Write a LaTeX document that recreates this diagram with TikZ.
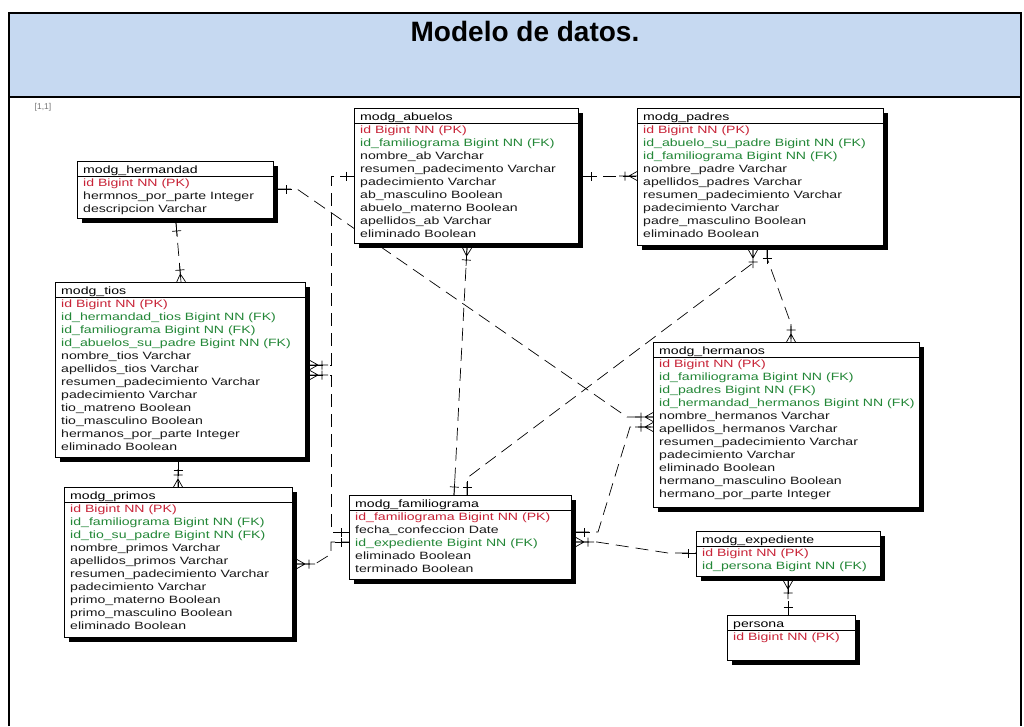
\documentclass[tikz,border=0pt]{standalone}
\usepackage{fontspec}
\setmainfont{Liberation Sans}
\newfontfamily\erfont{Liberation Sans}[FakeStretch=1.33]
\usetikzlibrary{calc,shadows,decorations.markings}

\definecolor{hdrblue}{RGB}{198,217,241}
\definecolor{pkred}{RGB}{200,35,55}
\definecolor{fkgreen}{RGB}{35,135,55}
\definecolor{attgray}{RGB}{25,25,25}

\tikzset{
  erbox/.style={draw=black, line width=0.8pt, fill=white, inner sep=0pt, anchor=north west,
    drop shadow={shadow xshift=5pt, shadow yshift=-5pt, opacity=1, fill=black}},
  ertext/.style={anchor=base west, inner sep=0pt, font=\erfont\fontsize{10.6}{12}\selectfont},
  rel/.style={line width=0.7pt, dash pattern=on 13pt off 7pt},
  from one/.style={postaction={decorate,decoration={markings,mark=at position 0 with
    {\draw[solid,line width=0.7pt] (0,0)--(14pt,0) (8pt,-4.5pt)--(8pt,4.5pt);}}}},
  from many/.style={postaction={decorate,decoration={markings,mark=at position 0 with
    {\draw[solid,line width=0.7pt] (0,0)--(18pt,0) (0,-4.5pt)--(8pt,0)--(0,4.5pt)
      (12pt,-4.5pt)--(12pt,4.5pt);}}}},
  to one/.style={postaction={decorate,decoration={markings,mark=at position 1 with
    {\draw[solid,line width=0.7pt] (0,0)--(-14pt,0) (-8pt,-4.5pt)--(-8pt,4.5pt);}}}},
  to many/.style={postaction={decorate,decoration={markings,mark=at position 1 with
    {\draw[solid,line width=0.7pt] (0,0)--(-18pt,0) (0,-4.5pt)--(-8pt,0)--(0,4.5pt)
      (-12pt,-4.5pt)--(-12pt,4.5pt);}}}},
}

% #1 name, #2 left, #3 top, #4 width, #5 height, #6 table name, #7 colour/row list
\newcommand\ertable[7]{%
  \node[erbox, minimum width=#4, minimum height=#5] (#1) at (#2,#3) {};
  \draw[line width=0.6pt] ($(#1.north west)+(0,15.5)$) -- ($(#1.north east)+(0,15.5)$);
  \node[ertext, text=black] (#1-h) at ($(#1.north west)+(6,12)$) {#6};
  \foreach \c/\t [count=\i] in {#7}
    \node[ertext, text=\c] (#1-\i) at ($(#1.north west)+(6,12+13*\i)$) {\t};
}

\begin{document}
\begin{tikzpicture}[x=1pt,y=-1pt]
\useasboundingbox (0,0) rectangle (1024,726);

% page frame and heading band
\fill[hdrblue] (9,13) rectangle (1021,97);
\draw[line width=2pt] (9,726) -- (9,13) -- (1021,13) -- (1021,726);
\draw[line width=2pt] (9,97) -- (1021,97);
\node[font=\bfseries\fontsize{28}{30}\selectfont] (title) at (525,31) {Modelo de datos.};
\node[text=black!55, font=\fontsize{8.5}{9}\selectfont] (zoomlevel) at (43,107) {[1,1]};

% table corners (the tables are drawn later, on top of the relations)
\path (77,161) coordinate (herm0) (354,108) coordinate (abu0) (637,108) coordinate (pad0)
      (55,282) coordinate (tios0) (64,487) coordinate (prim0) (349,495) coordinate (fam0)
      (653,342) coordinate (hnos0) (696,531) coordinate (exp0) (727,615) coordinate (per0);
\path (273,218) coordinate (herm1) (578,243) coordinate (abu1) (883,245) coordinate (pad1)
      (305,457) coordinate (tios1) (292,637) coordinate (prim1) (571,579) coordinate (fam1)
      (919,507) coordinate (hnos1) (880,576) coordinate (exp1) (855,660) coordinate (per1);

% relations
\draw[rel, from one, to many] ($(herm0|-herm1)+(99,5)$) -- ($(tios0)+(126,0)$);
\draw[rel, from one, to many] ($(herm1|-herm0)+(5,28)$) -- ++(19,0)
      -- ($(hnos0)+(-26,75)$) -- ($(hnos0)+(0,75)$);
\draw[rel, from one, to many] ($(abu0)+(0,68)$) -- ++(-23,0) |- ($(tios1|-tios0)+(5,83)$);
\draw[rel, from many, to one] ($(tios1|-tios0)+(5,93)$) -- ++(21,0) |- ($(fam0)+(0,37)$);
\draw[rel, from many, to one] ($(prim1|-prim0)+(5,77)$) -- ++(18,0) -- ++(16,-10)
      |- ($(fam0)+(0,47)$);
\draw[rel, from one, to many] ($(abu1|-abu0)+(5,68)$) -- ($(pad0)+(0,68)$);
\draw[rel, from many, to one] ($(abu0|-abu1)+(113,5)$) -- ($(fam0)+(105,0)$);
\draw[rel, from one, to many] ($(fam0)+(118,0)$) -- ++(0,-17)
      -- ($(pad0|-pad1)+(116,18)$) -- ($(pad0|-pad1)+(116,5)$);
\draw[rel, from one, to many] ($(pad0|-pad1)+(130,5)$) -- ++(0,8)
      -- ($(hnos0)+(138,-18)$) -- ($(hnos0)+(138,0)$);
\draw[rel, from one, to many] ($(fam1|-fam0)+(5,37)$) -- ++(22,0)
      -- ($(hnos0)+(-23,85)$) -- ($(hnos0)+(0,85)$);
\draw[rel, from many, to one] ($(fam1|-fam0)+(5,47)$) -- ++(21,0)
      -- ($(exp0)+(-28,22)$) -- ($(exp0)+(0,22)$);
\draw[rel, from many, to one] ($(exp0|-exp1)+(92,5)$) -- ($(per0)+(61,0)$);
\draw[rel, from one, to many] ($(tios0|-tios1)+(123,5)$) -- ($(prim0)+(114,0)$);

% tables
\ertable{hermandad}{77}{161}{196}{57}{modg\_hermandad}{pkred/id Bigint NN (PK),
  attgray/hermnos\_por\_parte Integer, attgray/descripcion Varchar}
\ertable{abuelos}{354}{108}{224}{135}{modg\_abuelos}{pkred/id Bigint NN (PK),
  fkgreen/id\_familiograma Bigint NN (FK), attgray/nombre\_ab Varchar,
  attgray/resumen\_padecimento Varchar, attgray/padecimiento Varchar,
  attgray/ab\_masculino Boolean, attgray/abuelo\_materno Boolean,
  attgray/apellidos\_ab Varchar, attgray/eliminado Boolean}
\ertable{padres}{637}{108}{246}{137}{modg\_padres}{pkred/id Bigint NN (PK),
  fkgreen/id\_abuelo\_su\_padre Bigint NN (FK), fkgreen/id\_familiograma Bigint NN (FK),
  attgray/nombre\_padre Varchar, attgray/apellidos\_padres Varchar,
  attgray/resumen\_padecimiento Varchar, attgray/padecimiento Varchar,
  attgray/padre\_masculino Boolean, attgray/eliminado Boolean}
\ertable{tios}{55}{282}{250}{175}{modg\_tios}{pkred/id Bigint NN (PK),
  fkgreen/id\_hermandad\_tios Bigint NN (FK), fkgreen/id\_familiograma Bigint NN (FK),
  fkgreen/id\_abuelos\_su\_padre Bigint NN (FK), attgray/nombre\_tios Varchar,
  attgray/apellidos\_tios Varchar, attgray/resumen\_padecimiento Varchar,
  attgray/padecimiento Varchar, attgray/tio\_matreno Boolean,
  attgray/tio\_masculino Boolean, attgray/hermanos\_por\_parte Integer,
  attgray/eliminado Boolean}
\ertable{primos}{64}{487}{228}{150}{modg\_primos}{pkred/id Bigint NN (PK),
  fkgreen/id\_familiograma Bigint NN (FK), fkgreen/id\_tio\_su\_padre Bigint NN (FK),
  attgray/nombre\_primos Varchar, attgray/apellidos\_primos Varchar,
  attgray/resumen\_padecimiento Varchar, attgray/padecimiento Varchar,
  attgray/primo\_materno Boolean, attgray/primo\_masculino Boolean,
  attgray/eliminado Boolean}
\ertable{familiograma}{349}{495}{222}{84}{modg\_familiograma}{pkred/id\_familiograma Bigint NN (PK),
  attgray/fecha\_confeccion Date, fkgreen/id\_expediente Bigint NN (FK),
  attgray/eliminado Boolean, attgray/terminado Boolean}
\ertable{hermanos}{653}{342}{266}{165}{modg\_hermanos}{pkred/id Bigint NN (PK),
  fkgreen/id\_familiograma Bigint NN (FK), fkgreen/id\_padres Bigint NN (FK),
  fkgreen/id\_hermandad\_hermanos Bigint NN (FK), attgray/nombre\_hermanos Varchar,
  attgray/apellidos\_hermanos Varchar, attgray/resumen\_padecimiento Varchar,
  attgray/padecimiento Varchar, attgray/eliminado Boolean,
  attgray/hermano\_masculino Boolean, attgray/hermano\_por\_parte Integer}
\ertable{expediente}{696}{531}{184}{45}{modg\_expediente}{pkred/id Bigint NN (PK),
  fkgreen/id\_persona Bigint NN (FK)}
\ertable{persona}{727}{615}{128}{45}{persona}{pkred/id Bigint NN (PK)}
\end{tikzpicture}
\end{document}
